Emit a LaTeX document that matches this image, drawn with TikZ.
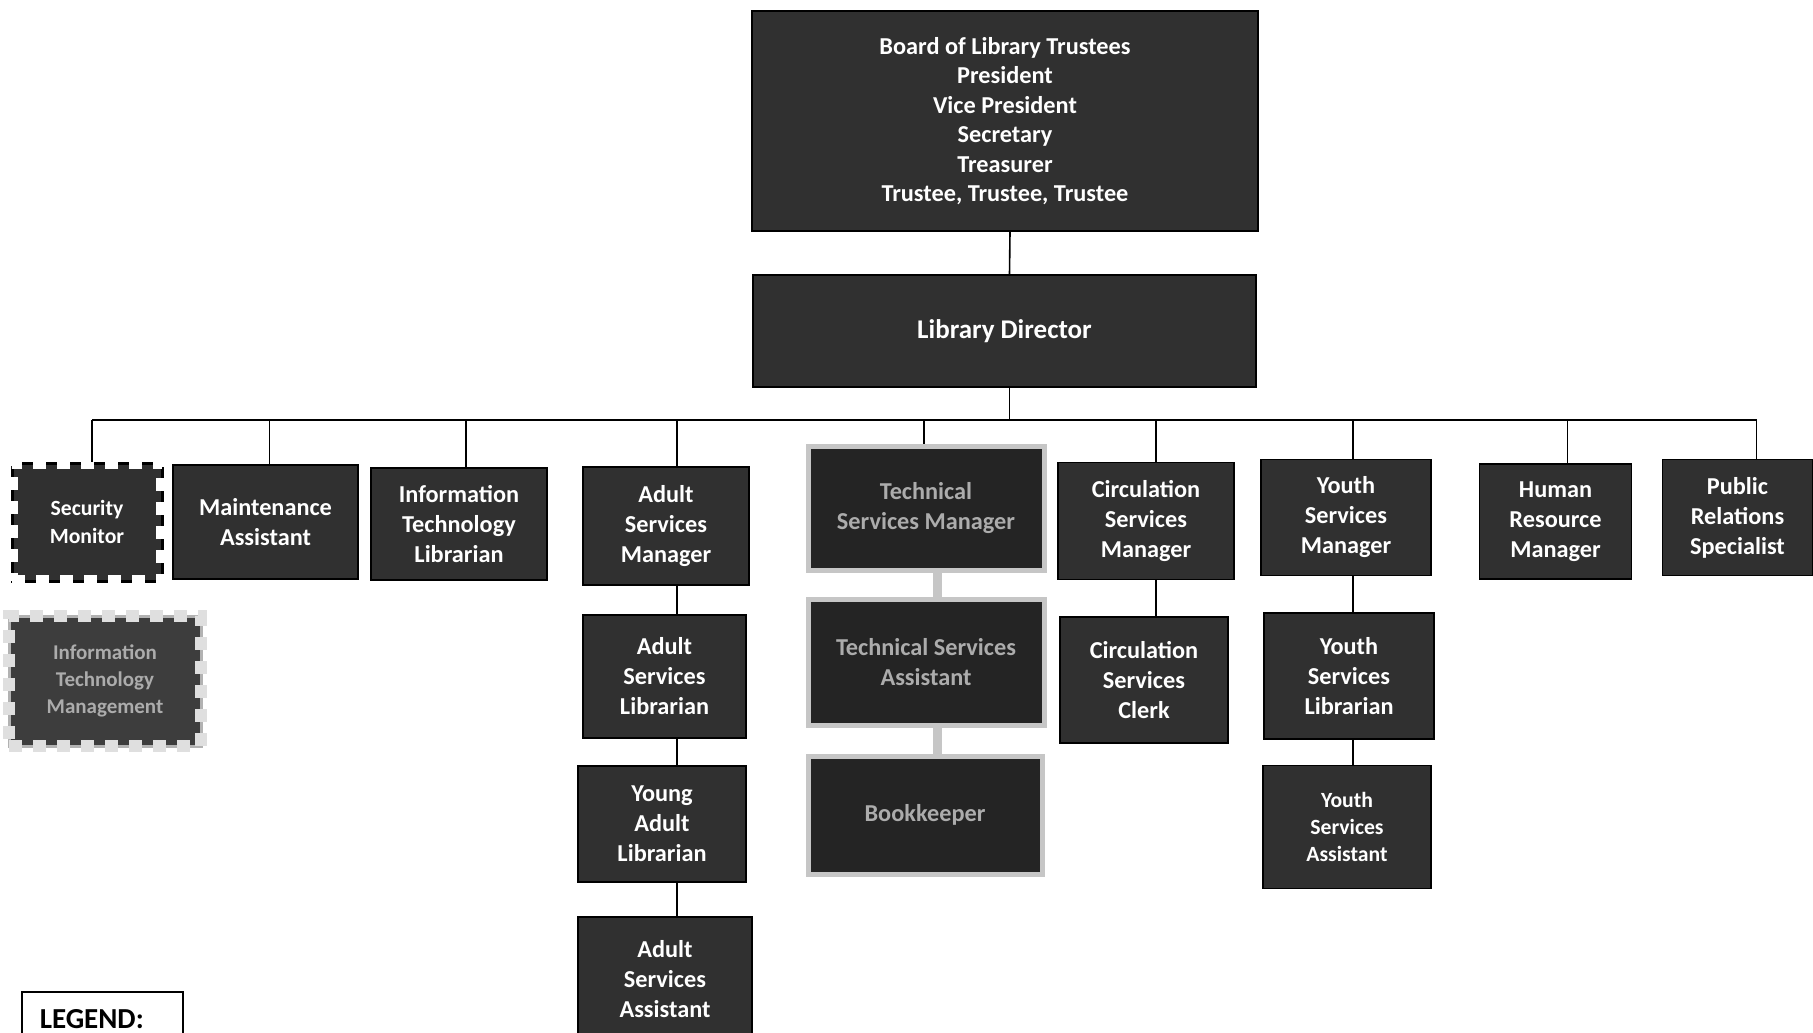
\documentclass[tikz,border=0pt]{standalone}
\usepackage{fontspec}
\setsansfont{Carlito}
\usetikzlibrary{calc}

\definecolor{boxfill}{HTML}{303030}
\definecolor{haze}{HTML}{C6C6C6}

\tikzset{
  post/.style={rectangle, draw=black, line width=1.5pt, fill=boxfill, text=white,
    align=center, inner sep=0pt, font=\sffamily\bfseries\fontsize{24.3}{30}\selectfont},
  smallpost/.style={post, font=\sffamily\bfseries\fontsize{21.7}{26.7}\selectfont},
  stamp/.style={post, line width=3pt,
    postaction={draw=white, line width=12pt, dash pattern=on 13pt off 11pt}},
  fuzzy/.style={post, draw=haze, line width=5pt, fill=black!86, text=gray!65},
  link/.style={draw=black, line width=1.6pt},
  fuzzylink/.style={draw=haze, line width=9pt},
}

\begin{document}
\begin{tikzpicture}[x=1pt, y=-1pt]
  % page 1813 x 1033, y runs downwards
  \clip (0,0) rectangle (1813,1033);
  \useasboundingbox (0,0) rectangle (1813,1033);

  % board and director
  \node[post, minimum width=506, minimum height=220,
    font=\sffamily\bfseries\fontsize{24.3}{29.5}\selectfont] (board) at (1005,121)
    {Board of Library Trustees\\President\\Vice President\\Secretary\\Treasurer\\Trustee, Trustee, Trustee};
  \node[post, minimum width=503, minimum height=112,
    font=\sffamily\bfseries\fontsize{27}{30}\selectfont] (director) at (1004.5,331) {Library Director};

  % first row
  \node[stamp, minimum width=150, minimum height=118,
    font=\sffamily\bfseries\fontsize{21.7}{28}\selectfont] (sec) at (87,522) {Security\\Monitor};
  \node[post, minimum width=185, minimum height=114] (mnt) at (265.5,522) {Maintenance\\Assistant};
  \node[post, minimum width=176, minimum height=112] (itl) at (459,524) {Information\\Technology\\Librarian};
  \node[post, minimum width=166, minimum height=118] (asm) at (666,526) {Adult\\Services\\Manager};
  \node[fuzzy, minimum width=236, minimum height=124] (tsm) at (926,508) {Technical\\Services Manager};
  \node[post, minimum width=176, minimum height=117] (csm) at (1146,521) {Circulation\\Services\\Manager};
  \node[post, minimum width=170, minimum height=116] (ysm) at (1346,517.5) {Youth\\Services\\Manager};
  \node[post, minimum width=152, minimum height=115] (hrm) at (1555.5,521.5) {Human\\Resource\\Manager};
  \node[post, minimum width=150, minimum height=116] (prs) at (1737.5,517.5) {Public\\Relations\\Specialist};

  % lower rows
  \node[post, minimum width=163, minimum height=123] (asl) at (664.5,676.5) {Adult\\Services\\Librarian};
  \node[post, minimum width=168, minimum height=116] (yal) at (662,824) {Young\\Adult\\Librarian};
  \node[post, minimum width=174, minimum height=124] (asa) at (665,979) {Adult\\Services\\Assistant};
  \node[fuzzy, minimum width=236, minimum height=126] (tsa) at (926,662) {Technical Services\\Assistant};
  \node[fuzzy, minimum width=234, minimum height=118] (bk) at (925,815) {Bookkeeper};
  \node[post, minimum width=168, minimum height=126] (csc) at (1144,680) {Circulation\\Services\\Clerk};
  \node[post, minimum width=170, minimum height=126] (ysl) at (1349,676) {Youth\\Services\\Librarian};
  \node[smallpost, minimum width=168, minimum height=123] (ysa) at (1347,827) {Youth\\Services\\Assistant};

  % legend
  \node[post, draw=gray!60, line width=3pt, fill=black!76, text=gray!65,
    postaction={draw=gray!25, line width=12pt, dash pattern=on 13pt off 11pt},
    minimum width=192, minimum height=130,
    font=\sffamily\bfseries\fontsize{21}{27}\selectfont] (itm) at (105,681)
    {Information\\Technology\\Management};
  \node[draw=black, line width=1.5pt, fill=white, anchor=north west,
    minimum width=161, minimum height=54, inner xsep=18pt, inner ysep=0pt,
    text width=125pt, align=left,
    font=\sffamily\bfseries\fontsize{29}{30}\selectfont] (legend) at (21,991) {LEGEND:};

  % connectors
  \coordinate (bus) at (0,420);
  \coordinate (acol) at (677,0);
  \coordinate (tcol) at (937,0);
  \coordinate (ccol) at (1156,0);
  \coordinate (ycol) at (1353,0);
  \draw[link] ([xshift=5]board.south) -- ([xshift=5]director.north);
  \draw[link] ([xshift=5]director.south) -- ([xshift=5]director.south |- bus);
  \draw[link] ([xshift=5]sec.north |- bus) -- ([xshift=19]prs.north |- bus);
  \foreach \n/\dx in {sec/5, mnt/4, itl/7, asm/11, tsm/-2, csm/10, ysm/7, hrm/12, prs/19}
    \draw[link] ([xshift=\dx]\n.north |- bus) -- ([xshift=\dx]\n.north);
  \draw[link] (asm.south -| acol) -- (asl.north -| acol);
  \draw[link] (asl.south -| acol) -- (yal.north -| acol);
  \draw[link] (yal.south -| acol) -- (asa.north -| acol);
  \draw[fuzzylink] (tsm.south -| tcol) -- (tsa.north -| tcol);
  \draw[fuzzylink] (tsa.south -| tcol) -- (bk.north -| tcol);
  \draw[link] (csm.south -| ccol) -- (csc.north -| ccol);
  \draw[link] (ysm.south -| ycol) -- (ysl.north -| ycol);
  \draw[link] (ysl.south -| ycol) -- (ysa.north -| ycol);
\end{tikzpicture}
\end{document}
